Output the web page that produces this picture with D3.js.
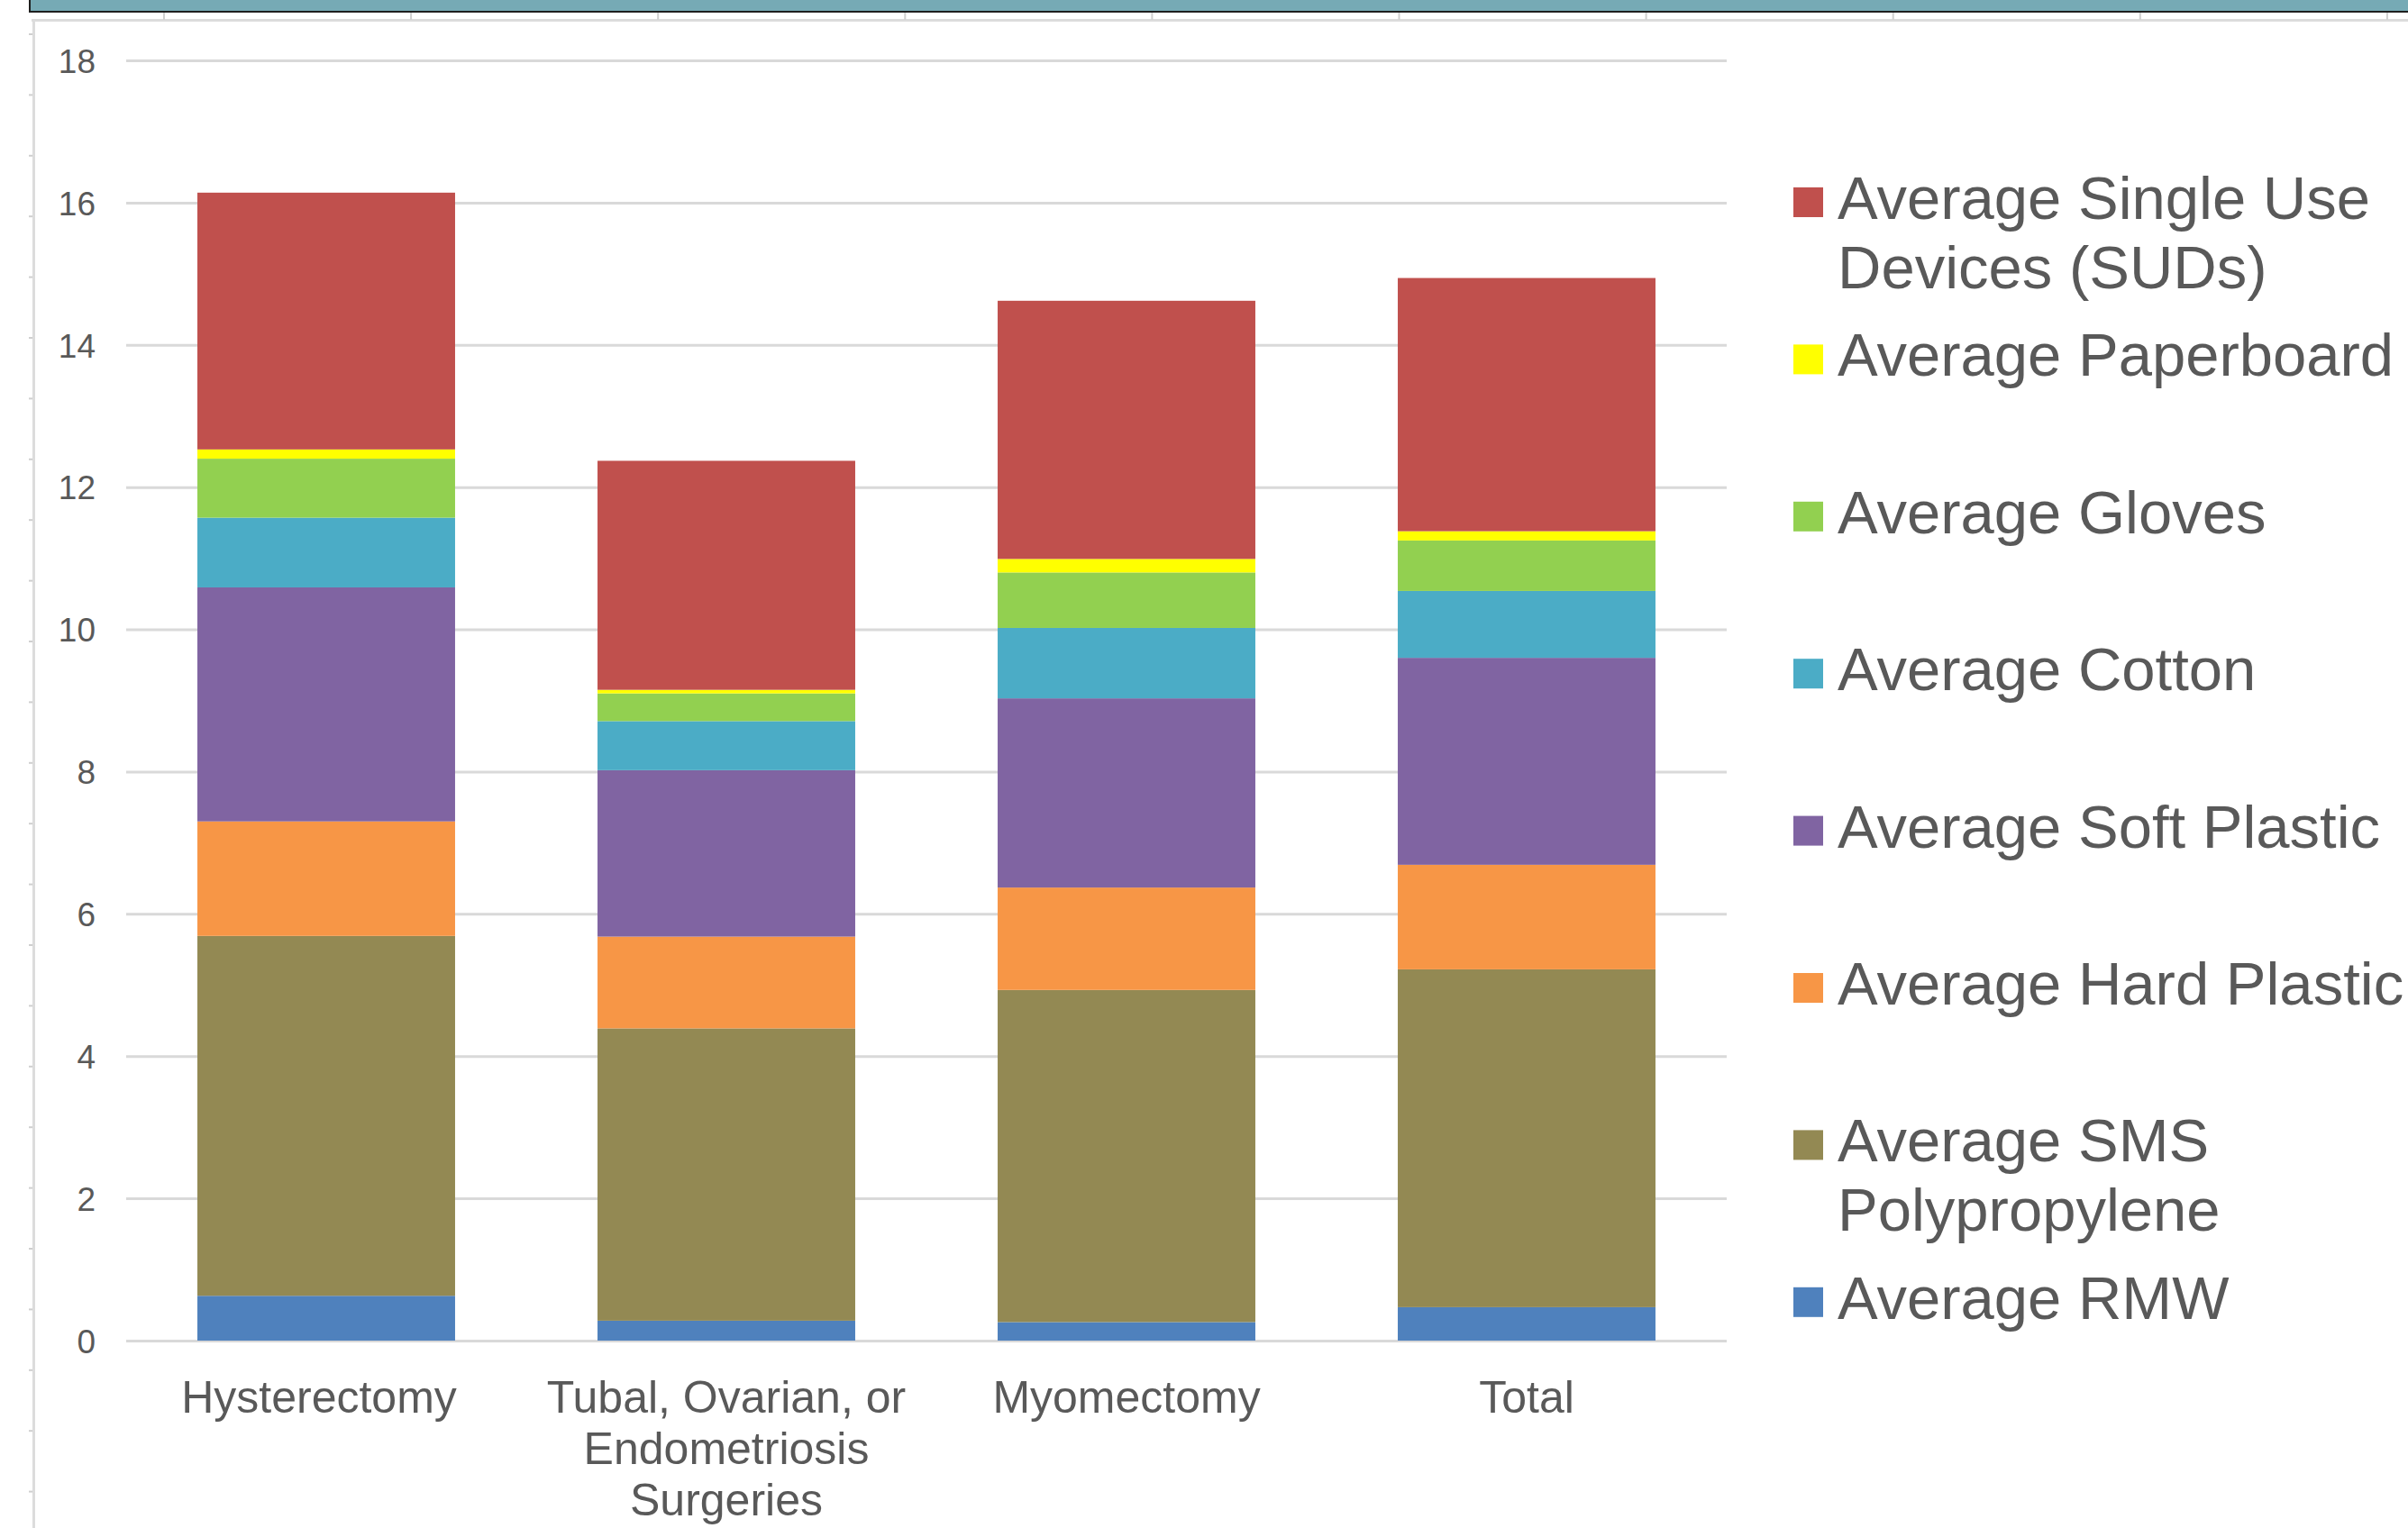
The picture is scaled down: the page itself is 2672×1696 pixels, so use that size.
<!DOCTYPE html>
<html>
<head>
<meta charset="utf-8">
<script src="https://cdn.jsdelivr.net/npm/d3@7"></script>
<style>
  html, body { margin: 0; padding: 0; background: #ffffff; }
  svg { display: block; }
</style>
</head>
<body>
<svg id="chart" width="2672" height="1696"></svg>
<script>
// ---------------- DATA ----------------
const categories = ["Hysterectomy", "Tubal, Ovarian, or Endometriosis Surgeries", "Myomectomy", "Total"];
const categoryLabelLines = [
  ["Hysterectomy"],
  ["Tubal, Ovarian, or", "Endometriosis", "Surgeries"],
  ["Myomectomy"],
  ["Total"]
];
const seriesNames = [
  "Average RMW",
  "Average SMS Polypropylene",
  "Average Hard Plastic",
  "Average Soft Plastic",
  "Average Cotton",
  "Average Gloves",
  "Average Paperboard",
  "Average Single Use Devices (SUDs)"
];
const rmw       = [0.63, 0.28, 0.26, 0.47];
const sms       = [5.06, 4.11, 4.67, 4.75];
const hardPl    = [1.61, 1.29, 1.44, 1.47];
const softPl    = [3.29, 2.34, 2.66, 2.91];
const cotton    = [0.98, 0.69, 0.99, 0.94];
const gloves    = [0.83, 0.39, 0.78, 0.71];
const paperbrd  = [0.13, 0.05, 0.19, 0.13];
const suds      = [3.61, 3.22, 3.63, 3.56];
const seriesValues = [rmw, sms, hardPl, softPl, cotton, gloves, paperbrd, suds];
const seriesColors = ["#4f81bd", "#938953", "#f79646", "#8064a2", "#4bacc6", "#92d050", "#ffff00", "#c0504d"];
const legendLabelLines = {
  "Average Single Use Devices (SUDs)": ["Average Single Use", "Devices (SUDs)"],
  "Average Paperboard": ["Average Paperboard"],
  "Average Gloves": ["Average Gloves"],
  "Average Cotton": ["Average Cotton"],
  "Average Soft Plastic": ["Average Soft Plastic"],
  "Average Hard Plastic": ["Average Hard Plastic"],
  "Average SMS Polypropylene": ["Average SMS", "Polypropylene"],
  "Average RMW": ["Average RMW"]
};
const yTicks = [0, 2, 4, 6, 8, 10, 12, 14, 16, 18];

// ---------------- LAYOUT ----------------
const svg = d3.select("#chart");
const W = 2672, H = 1696;
const FONT = "'Liberation Sans', Arial, Helvetica, sans-serif";
const TEXT = "#595959";
const plot = { left: 140, right: 1916, top: 67, bottom: 1488 };

// window chrome: teal bar, ruler and left frame
svg.append("rect").attr("x", 33).attr("y", -2).attr("width", W).attr("height", 15)
  .attr("fill", "#76aab5").attr("stroke", "#1e1e1e").attr("stroke-width", 2);
svg.append("rect").attr("x", 35).attr("y", 21).attr("width", W - 35).attr("height", 3).attr("fill", "#dcdcdc");
const rulerX = d3.range(182, W, 274.1);
svg.append("g").selectAll("line").data(rulerX).join("line")
  .attr("x1", d => d).attr("x2", d => d).attr("y1", 14).attr("y2", 22)
  .attr("stroke", "#cfcfcf").attr("stroke-width", 2);
svg.append("rect").attr("x", 36).attr("y", 21).attr("width", 3).attr("height", H - 21).attr("fill", "#dcdcdc");
const rulerY = d3.range(38, H, 67.4);
svg.append("g").selectAll("line").data(rulerY).join("line")
  .attr("x1", 32).attr("x2", 36).attr("y1", d => d).attr("y2", d => d)
  .attr("stroke", "#cfcfcf").attr("stroke-width", 2);

// ---------------- SCALES ----------------
const x = d3.scaleBand().domain(categories).range([plot.left, plot.right])
  .paddingInner(0.356).paddingOuter(0.178);
const y = d3.scaleLinear().domain([0, 18]).range([plot.bottom, plot.top]);

// gridlines + y labels
const yAxis = d3.axisLeft(y).tickValues(yTicks).tickSize(-(plot.right - plot.left)).tickPadding(34)
  .tickFormat(d3.format("d"));
const gy = svg.append("g").attr("transform", `translate(${plot.left},0)`).call(yAxis);
gy.select(".domain").remove();
gy.selectAll(".tick line").attr("stroke", "#d9d9d9").attr("stroke-width", 3);
gy.selectAll(".tick text").attr("fill", TEXT).attr("font-family", FONT).attr("font-size", 37)
  .attr("dy", "0.36em");

// ---------------- BARS ----------------
const rows = categories.map((c, i) => {
  const r = { category: c };
  seriesNames.forEach((s, j) => { r[s] = seriesValues[j][i]; });
  return r;
});
const stacked = d3.stack().keys(seriesNames)(rows);
const color = d3.scaleOrdinal().domain(seriesNames).range(seriesColors);

svg.append("g").selectAll("g").data(stacked).join("g")
  .attr("fill", d => color(d.key))
  .selectAll("rect").data(d => d).join("rect")
  .attr("x", d => x(d.data.category))
  .attr("width", x.bandwidth())
  .attr("y", d => y(d[1]))
  .attr("height", d => y(d[0]) - y(d[1]));

// ---------------- X LABELS ----------------
const xAxis = d3.axisBottom(x).tickSize(0).tickFormat("");
const gx = svg.append("g").attr("transform", `translate(0,${plot.bottom})`).call(xAxis);
gx.select(".domain").remove();
gx.selectAll(".tick").each(function(d, i) {
  const t = d3.select(this).append("text")
    .attr("fill", TEXT).attr("font-family", FONT).attr("font-size", 50)
    .attr("text-anchor", "middle");
  categoryLabelLines[i].forEach((line, k) => {
    t.append("tspan").attr("x", -8 * (categoryLabelLines[i].length === 1 && i === 0 ? 1 : 0)).attr("y", 80 + k * 57).text(line);
  });
});

// ---------------- LEGEND ----------------
const legendOrder = seriesNames.slice().reverse();
const legend = svg.append("g").attr("transform", "translate(1990,208)");
const li = legend.selectAll("g").data(legendOrder).join("g")
  .attr("transform", (d, i) => `translate(0,${i * 174.4})`);
li.append("rect").attr("width", 33).attr("height", 33).attr("fill", d => color(d));
li.append("text").attr("fill", TEXT).attr("font-family", FONT).attr("font-size", 67)
  .selectAll("tspan").data(d => legendLabelLines[d]).join("tspan")
  .attr("x", 49).attr("y", (d, k) => 35 + k * 77).text(d => d);
</script>
</body>
</html>
